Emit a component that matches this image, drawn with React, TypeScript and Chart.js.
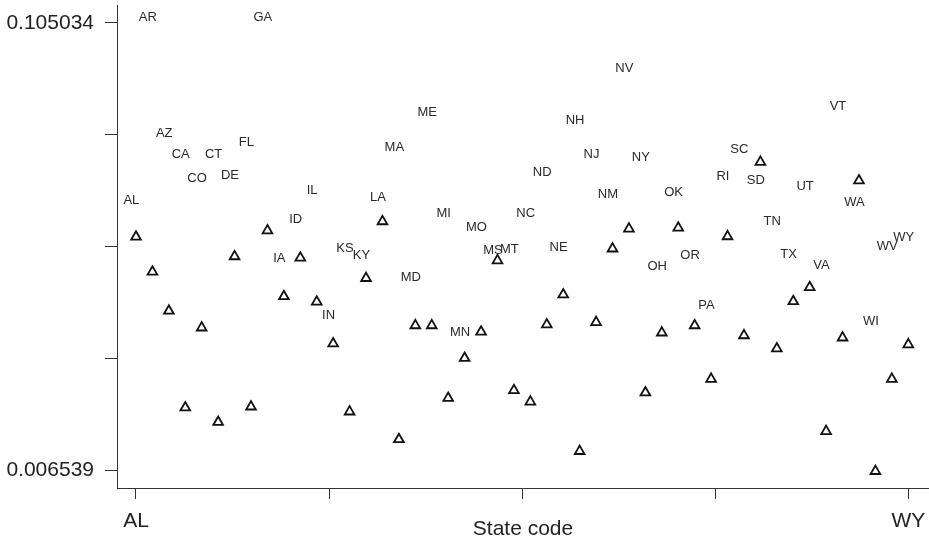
import React, { useEffect, useRef } from "react";
import { Chart, registerables } from "chart.js";

Chart.register(...registerables);

const states = [
  "AL", "AR", "AZ", "CA", "CO", "CT", "DE", "FL", "GA", "IA", "ID", "IL",
  "IN", "KS", "KY", "LA", "MA", "MD", "ME", "MI", "MN", "MO", "MS", "MT",
  "NC", "ND", "NE", "NH", "NJ", "NM", "NV", "NY", "OH", "OK", "OR", "PA",
  "RI", "SC", "SD", "TN", "TX", "UT", "VA", "VT", "WA", "WI", "WV", "WY",
];

// values shown by the triangles
const triangleValues = [
  0.0579, 0.0502, 0.0416, 0.0203, 0.0379, 0.0171, 0.0536, 0.0205, 0.0593, 0.0448, 0.0533, 0.0436,
  0.0344, 0.0194, 0.0488, 0.0613, 0.0133, 0.0384, 0.0384, 0.0224, 0.0312, 0.0370, 0.0527, 0.0241,
  0.0216, 0.0386, 0.0452, 0.0107, 0.0391, 0.0553, 0.0597, 0.0236, 0.0368, 0.0599, 0.0384, 0.0266,
  0.0580, 0.0362, 0.0744, 0.0333, 0.0437, 0.0468, 0.0151, 0.0357, 0.0703, 0.0063, 0.0266, 0.0342,
];

// values shown by the state-code labels
const labelValues = [
  0.0659, 0.1062, 0.0808, 0.0761, 0.0708, 0.0761, 0.0714, 0.0788, 0.1062, 0.0532, 0.0618, 0.0681,
  0.0407, 0.0554, 0.0539, 0.0667, 0.0776, 0.0490, 0.0854, 0.0631, 0.0368, 0.0599, 0.0549, 0.0552,
  0.0631, 0.0721, 0.0556, 0.0836, 0.0761, 0.0673, 0.0950, 0.0754, 0.0513, 0.0678, 0.0539, 0.0429,
  0.0713, 0.0772, 0.0703, 0.0612, 0.0541, 0.0691, 0.0517, 0.0867, 0.0656, 0.0392, 0.0559, 0.0578,
];

const yTickValues = [0.006539, 0.03116275, 0.0557865, 0.08041025, 0.105034];
const yTickLabels = ["0.006539", "", "", "", "0.105034"];
const xTickValues = [0, 11.75, 23.5, 35.25, 47];
const xTickLabels = ["AL", "", "", "", "WY"];

const FONT = '"Liberation Sans", Arial, Helvetica, sans-serif';
const LABEL_SHIFT = -0.28;

const labelPlugin = {
  id: "stateLabels",
  afterDatasetsDraw(chart: any) {
    const { ctx } = chart;
    const meta = chart.getDatasetMeta(1);
    ctx.save();
    ctx.font = `13px ${FONT}`;
    ctx.fillStyle = "#2a2a2a";
    ctx.textAlign = "center";
    ctx.textBaseline = "middle";
    meta.data.forEach((el: any, i: number) => {
      ctx.fillText(states[i], el.x, el.y);
    });
    ctx.restore();
  },
};

export default function App() {
  const ref = useRef<HTMLCanvasElement | null>(null);

  useEffect(() => {
    document.body.style.margin = "0";
    document.body.style.overflow = "hidden";
    document.documentElement.style.overflow = "hidden";
    if (!ref.current) return;
    const chart = new Chart(ref.current, {
      type: "scatter",
      data: {
        datasets: [
          {
            label: "values",
            data: triangleValues.map((v, i) => ({ x: i, y: v })),
            pointStyle: "triangle",
            pointRadius: 5.6,
            pointBorderWidth: 1.8,
            pointBorderColor: "#111111",
            pointBackgroundColor: "rgba(0,0,0,0)",
          },
          {
            label: "labels",
            data: labelValues.map((v, i) => ({ x: i + LABEL_SHIFT, y: v })),
            pointRadius: 0,
            pointHoverRadius: 0,
          },
        ],
      },
      options: {
        animation: false,
        responsive: false,
        clip: false as any,
        layout: { autoPadding: false, padding: { top: 5, left: 0, right: 0, bottom: 0 } },
        plugins: {
          legend: { display: false },
          tooltip: { enabled: false },
        },
        events: [],
        scales: {
          x: {
            type: "linear",
            min: -1.156,
            max: 48.26,
            afterBuildTicks: (s: any) => {
              s.ticks = xTickValues.map((v) => ({ value: v }));
            },
            afterFit: (s: any) => {
              s.height = 54;
              s.paddingLeft = 0;
              s.paddingRight = 0;
            },
            ticks: {
              autoSkip: false,
              maxRotation: 0,
              padding: 10,
              color: "#222222",
              font: { family: FONT, size: 21 },
              callback: (_v: any, i: number) => xTickLabels[i],
            },
            grid: { drawOnChartArea: false, tickLength: 11, color: "#333333", lineWidth: 1 },
            border: { display: true, color: "#333333", width: 1 },
            title: {
              display: true,
              text: "State code",
              color: "#222222",
              font: { family: FONT, size: 21 },
              padding: { top: 0, bottom: 0 },
            },
          },
          y: {
            type: "linear",
            min: 0.0025992,
            max: 0.1089738,
            afterBuildTicks: (s: any) => {
              s.ticks = yTickValues.map((v) => ({ value: v }));
            },
            afterFit: (s: any) => {
              s.width = 117;
              s.paddingTop = 0;
              s.paddingBottom = 0;
              s.paddingLeft = 0;
              s.paddingRight = 0;
            },
            ticks: {
              autoSkip: false,
              padding: 11,
              color: "#222222",
              font: { family: FONT, size: 21 },
              callback: (_v: any, i: number) => yTickLabels[i],
            },
            grid: { drawOnChartArea: false, tickLength: 12, color: "#333333", lineWidth: 1 },
            border: { display: true, color: "#333333", width: 1 },
          },
        },
      },
      plugins: [labelPlugin],
    } as any);
    return () => chart.destroy();
  }, []);

  return (
    <div style={{ position: "absolute", left: 0, top: 0, width: 929, height: 542, overflow: "hidden" }}>
      <canvas ref={ref} width={929} height={542} style={{ display: "block", width: 929, height: 542 }} />
    </div>
  );
}
